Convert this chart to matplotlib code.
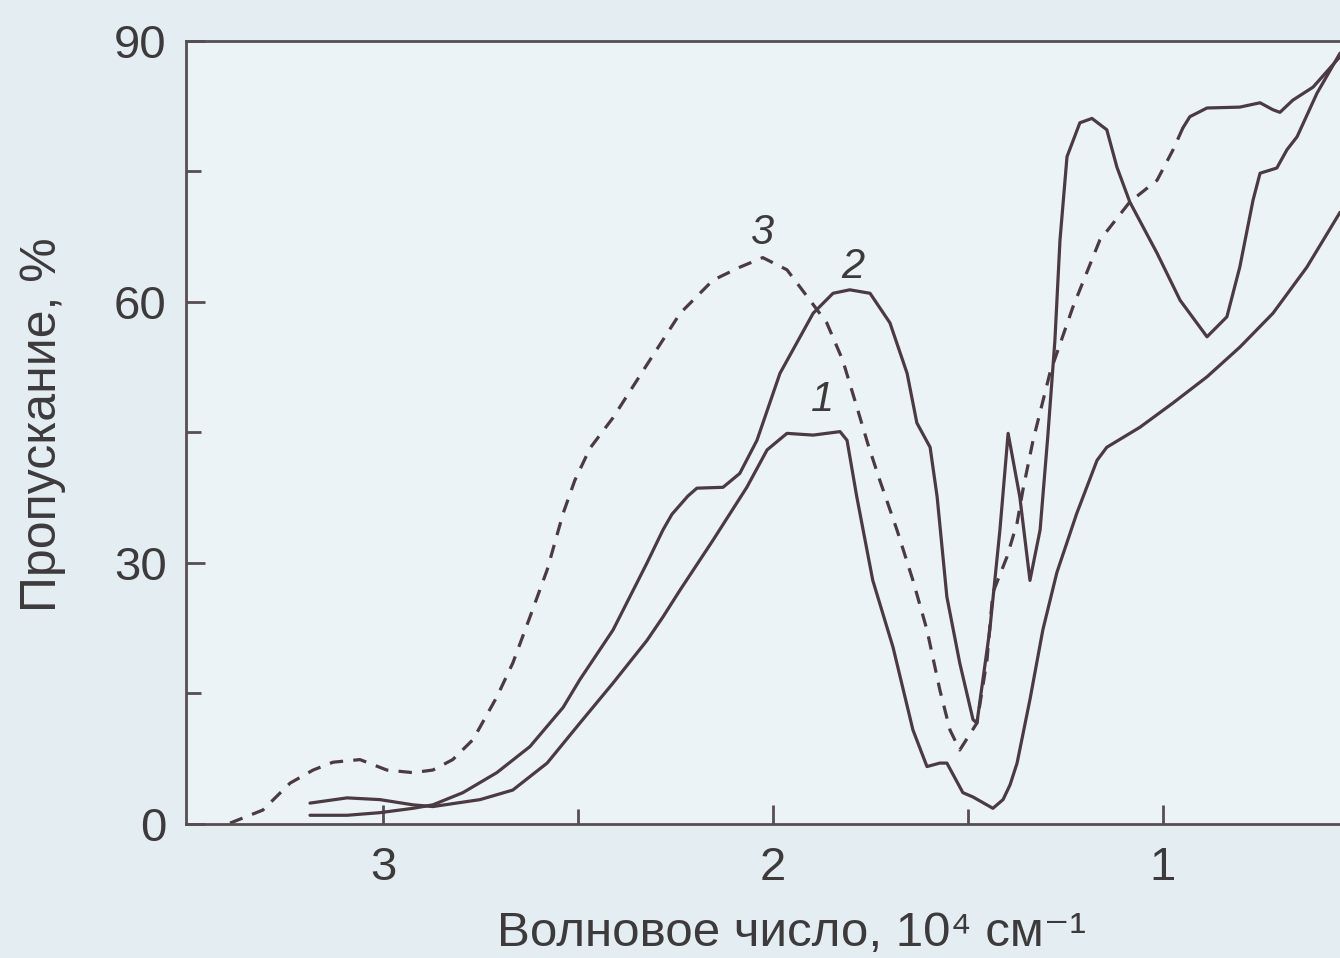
import matplotlib
matplotlib.use("Agg")
import matplotlib.pyplot as plt
from matplotlib.ticker import FixedLocator

curve1_x = [3.187, 3.092, 3.008, 2.923, 2.872, 2.751, 2.667, 2.579, 2.495,
            2.410, 2.323, 2.282, 2.238, 2.154, 2.067, 2.015, 1.964, 1.897,
            1.828, 1.810, 1.785, 1.744, 1.692, 1.641, 1.605, 1.572, 1.554,
            1.513, 1.487, 1.436, 1.410, 1.392, 1.374, 1.341, 1.308, 1.272,
            1.221, 1.169, 1.144, 1.059, 0.974, 0.887, 0.803, 0.718, 0.631,
            0.546]
curve1_y = [2.4, 3.0, 2.8, 2.2, 2.0, 2.8, 3.9, 7.0, 11.6,
            16.2, 21.1, 23.8, 26.9, 32.6, 38.7, 43.0, 44.9, 44.7,
            45.1, 44.1, 37.6, 28.0, 20.3, 10.8, 6.6, 7.0, 7.0,
            3.6, 3.1, 1.8, 2.8, 4.5, 7.0, 14.3, 22.3, 28.9,
            35.7, 41.8, 43.3, 45.6, 48.4, 51.4, 54.8, 58.7, 64.0,
            70.3]

curve2_x = [3.187, 3.092, 3.008, 2.923, 2.872, 2.795, 2.708, 2.623, 2.538,
            2.495, 2.410, 2.323, 2.282, 2.259, 2.218, 2.195, 2.128, 2.085,
            2.041, 1.982, 1.897, 1.846, 1.803, 1.751, 1.700, 1.656, 1.631,
            1.597, 1.579, 1.554, 1.521, 1.487, 1.477, 1.444, 1.418, 1.397,
            1.367, 1.341, 1.315, 1.295, 1.277, 1.264, 1.246, 1.213, 1.182,
            1.144, 1.118, 1.085, 1.015, 0.956, 0.887, 0.836, 0.803, 0.769,
            0.751, 0.708, 0.682, 0.656, 0.605, 0.546]
curve2_y = [1.0, 1.0, 1.3, 1.8, 2.2, 3.6, 5.9, 8.9, 13.4,
            16.6, 22.3, 30.0, 33.8, 35.6, 37.7, 38.6, 38.7, 40.3,
            44.1, 51.8, 58.7, 61.0, 61.4, 61.0, 57.6, 51.8, 46.1,
            43.3, 37.6, 26.1, 18.5, 12.0, 11.6, 22.3, 33.8, 44.9,
            37.6, 28.0, 33.8, 44.7, 55.6, 67.1, 76.7, 80.6, 81.1,
            79.8, 75.5, 71.5, 65.6, 60.2, 56.0, 58.3, 64.0, 71.7,
            74.8, 75.4, 77.5, 79.0, 84.0, 88.6]

curve3_x = [3.392, 3.308, 3.238, 3.179, 3.128, 3.059, 2.990, 2.923, 2.872,
            2.821, 2.769, 2.708, 2.667, 2.623, 2.579, 2.538, 2.508, 2.469,
            2.410, 2.323, 2.238, 2.154, 2.085, 2.026, 1.964, 1.905, 1.862,
            1.821, 1.790, 1.756, 1.726, 1.682, 1.641, 1.605, 1.572, 1.546,
            1.521, 1.477, 1.451, 1.444, 1.436, 1.400, 1.374, 1.359, 1.333,
            1.290, 1.231, 1.162, 1.085, 1.015, 0.974, 0.949,
            0.931, 0.887, 0.803, 0.751, 0.718, 0.700, 0.667, 0.615, 0.546]
curve3_y = [0.1, 1.6, 4.7, 6.2, 7.1, 7.4, 6.2, 5.9, 6.2,
            7.4, 9.7, 14.6, 18.5, 23.8, 29.2, 35.7, 39.5, 43.2,
            46.7, 52.8, 58.7, 62.5, 64.0, 65.1, 63.7, 60.2, 57.6,
            53.3, 48.7, 43.6, 39.5, 33.8, 28.0, 22.3, 15.4, 10.8,
            8.5, 11.6, 18.9, 22.6, 26.6, 30.7, 34.6, 38.4, 44.1,
            51.8, 59.4, 67.1, 71.5, 74.0, 77.5, 80.0,
            81.3, 82.3, 82.4, 82.9, 82.1, 81.8, 83.2, 84.7, 88.2]
curve3_dash_end = 52          # points before this index are drawn dashed

curve_labels = ["1", "2", "3"]
label_x = [1.872, 1.795, 2.028]
label_y = [48.7, 64.0, 67.9]

y_major = [0, 30, 60, 90]
y_minor = [15, 45, 75]
x_major = [3, 2, 1]
x_minor = [2.5, 1.5]

# ---- styling ----
ink = "#4b3a41"
spine_col = "#574e53"
text_col = "#3d3a3c"
page = "#e4edf2"
panel = "#ebf3f6"
sans = ["Liberation Sans", "DejaVu Sans"]
plt.rcParams["font.family"] = sans

fig = plt.figure(figsize=(13.4, 9.58), dpi=100, facecolor=page)
ax = fig.add_axes([0.1388, 0.1399, 0.8612, 0.8173])
ax.set_facecolor(panel)

lw = 2.3
solid_kw = dict(color=ink, lw=lw, solid_joinstyle="round",
                solid_capstyle="round")
ax.plot(curve1_x, curve1_y, **solid_kw)
ax.plot(curve2_x, curve2_y, **solid_kw)
ax.plot(curve3_x[:curve3_dash_end], curve3_y[:curve3_dash_end], color=ink,
        lw=lw, linestyle=(0, (4.2, 3.2)), dash_capstyle="butt")
ax.plot(curve3_x[curve3_dash_end - 1:], curve3_y[curve3_dash_end - 1:],
        **solid_kw)

for t, xv, yv in zip(curve_labels, label_x, label_y):
    ax.text(xv, yv, t, fontsize=30, style="italic", color=text_col,
            ha="center", va="center")

ax.set_xlim(3.505, 0.546)
ax.set_ylim(0, 90)

ax.xaxis.set_major_locator(FixedLocator(x_major))
ax.xaxis.set_minor_locator(FixedLocator(x_minor))
ax.yaxis.set_major_locator(FixedLocator(y_major))
ax.yaxis.set_minor_locator(FixedLocator(y_minor))
ax.set_xticklabels([str(v) for v in x_major])
ax.set_yticklabels([str(v) for v in y_major])

ax.tick_params(axis="both", which="major", direction="in", length=14,
               width=2.0, color=spine_col, labelsize=34, labelcolor=text_col)
ax.tick_params(axis="both", which="minor", direction="in", length=11,
               width=2.0, color=spine_col)
ax.tick_params(axis="y", which="major", pad=14)
ax.tick_params(axis="x", which="major", pad=16)
ax.tick_params(top=False, right=False, which="both")

for side in ("left", "bottom", "top"):
    ax.spines[side].set_color(spine_col)
    ax.spines[side].set_linewidth(2.0)
ax.spines["right"].set_visible(False)

ax.set_xlabel("Волновое число, 10⁴ см⁻¹", fontsize=35.5, color=text_col)
ax.xaxis.set_label_coords(0.525, -0.111)
ax.set_ylabel("Пропускание, %", fontsize=36, color=text_col)
ax.yaxis.set_label_coords(-0.104, 0.51)

fig.savefig("out.png", dpi=100, facecolor=page)
